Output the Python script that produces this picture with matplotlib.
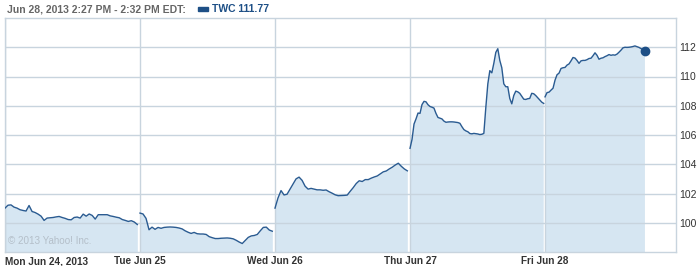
import numpy as np
import matplotlib.pyplot as plt
from matplotlib.patches import Rectangle

plt.rcParams['font.family'] = ['Liberation Sans', 'DejaVu Sans']

# TWC intraday prices, one list per trading day
mon = [101.00, 101.20, 101.22, 101.07, 101.00, 100.89, 100.84, 100.80, 101.18, 100.77,
       100.70, 100.59, 100.45, 100.16, 100.32, 100.34, 100.36, 100.40, 100.43, 100.36,
       100.30, 100.22, 100.20, 100.36, 100.39, 100.32, 100.59, 100.45, 100.60, 100.50,
       100.25, 100.55, 100.55, 100.55, 100.55, 100.47, 100.43, 100.38, 100.34, 100.22,
       100.16, 100.09, 100.14, 100.05, 99.88]
tue = [100.66, 100.60, 100.30, 99.52, 99.70, 99.55, 99.68, 99.62, 99.68, 99.70,
       99.71, 99.70, 99.68, 99.64, 99.58, 99.45, 99.35, 99.27, 99.34, 99.25,
       99.23, 99.23, 99.20, 99.05, 98.98, 98.92, 98.92, 98.94, 98.95, 98.96,
       98.94, 98.90, 98.80, 98.68, 98.58, 98.79, 99.00, 99.10, 99.13, 99.20,
       99.45, 99.68, 99.70, 99.50, 99.42]
wed = [101.00, 101.70, 102.20, 101.90, 101.95, 102.30, 102.65, 103.00, 103.12, 102.90,
       102.50, 102.30, 102.35, 102.30, 102.25, 102.25, 102.22, 102.24, 102.12, 102.02,
       101.91, 101.85, 101.86, 101.87, 101.89, 102.15, 102.40, 102.68, 102.87, 102.82,
       102.95, 102.95, 103.05, 103.13, 103.20, 103.34, 103.48, 103.54, 103.68, 103.80,
       103.95, 104.07, 103.86, 103.68, 103.55]
thu = [105.09, 105.70, 106.75, 107.10, 107.50, 107.48, 108.08, 108.30, 108.27, 108.07,
       107.95, 107.90, 107.84, 107.48, 107.20, 107.15, 107.10, 106.95, 106.87, 106.89,
       106.90, 106.90, 106.89, 106.87, 106.85, 106.80, 106.57, 106.37, 106.28, 106.22,
       106.10, 106.08, 106.11, 106.09, 106.07, 106.03, 106.05, 106.11, 107.90, 109.50,
       110.40, 110.25, 110.90, 111.65, 111.90, 111.10, 110.60, 109.50, 109.30, 109.30,
       108.50, 108.13, 108.70, 109.00, 108.95, 108.85, 108.65, 108.45, 108.43, 108.48,
       108.50, 108.85, 108.82, 108.70, 108.55, 108.40, 108.25, 108.16]
fri = [108.61, 108.90, 108.93, 109.07, 109.20, 109.75, 110.12, 110.23, 110.55, 110.60,
       110.62, 110.78, 110.86, 111.07, 111.30, 111.26, 111.10, 110.90, 111.07, 111.10,
       111.10, 111.15, 111.23, 111.25, 111.42, 111.62, 111.45, 111.18, 111.25, 111.28,
       111.36, 111.42, 111.50, 111.45, 111.48, 111.46, 111.53, 111.66, 111.80, 111.96,
       112.00, 111.99, 112.00, 112.02, 112.05, 112.09, 112.04, 111.99, 111.91, 111.84,
       111.77]
days = [mon, tue, wed, thu, fri]
day_labels = ['Mon Jun 24, 2013', 'Tue Jun 25', 'Wed Jun 26', 'Thu Jun 27', 'Fri Jun 28']
# portion of each day's slot covered by trading (Friday still in progress)
day_span = [0.98, 0.98, 0.98, 0.99, 0.74]
y_ticks = [100, 102, 104, 106, 108, 110, 112]
last_price = 111.77

line_c = '#2a5b91'
fill_c = '#d6e6f2'
grid_c = '#c8d4de'

fig = plt.figure(figsize=(7, 2.66), dpi=100)
ax = fig.add_axes([5 / 700, 14 / 266, 671 / 700, 234 / 266])

for i, prices in enumerate(days):
    x = i + np.linspace(0, day_span[i], len(prices))
    ax.fill_between(x, prices, 90, color=fill_c, lw=0, zorder=1)
    ax.plot(x, prices, color=line_c, lw=1.0, zorder=3)
ax.plot(4 + day_span[4], last_price, 'o', color='#1d4f86', ms=6, zorder=4)

ax.set_xlim(0, 4.97)
ax.set_ylim(98, 114)
ax.set_yticks(y_ticks)
ax.yaxis.tick_right()
ax.tick_params(axis='y', length=0, pad=2.5, labelsize=7.5, labelcolor='#333333')
ax.set_xticks(range(5))
ax.set_xticklabels(day_labels, fontsize=7.2, fontweight='bold', color='#333333')
ax.tick_params(axis='x', length=0, pad=3)
ax.get_xticklabels()[0].set_horizontalalignment('left')
ax.get_xticklabels()[0].set_x(0.01)
ax.grid(True, color=grid_c, lw=1.0, zorder=2)
ax.set_axisbelow(False)
for s in ax.spines.values():
    s.set_color(grid_c)
    s.set_linewidth(1.0)

ax.text(0.004, 0.035, '\u00a9 2013 Yahoo! Inc.', transform=ax.transAxes,
        fontsize=7.1, color='#b4bfc9', zorder=5)

fig.text(7 / 700, 1 - 9 / 266, 'Jun 28, 2013 2:27 PM - 2:32 PM EDT:', fontsize=7.5,
         fontweight='bold', color='#666666', va='center')
fig.patches.append(Rectangle((198 / 700, 1 - 11 / 266), 10 / 700, 4 / 266,
                             transform=fig.transFigure, color='#1d4f86'))
fig.text(212 / 700, 1 - 9 / 266, f'TWC {last_price:.2f}', fontsize=7.5,
         fontweight='bold', color='#1d4f86', va='center')

fig.savefig('out.png', dpi=100)
